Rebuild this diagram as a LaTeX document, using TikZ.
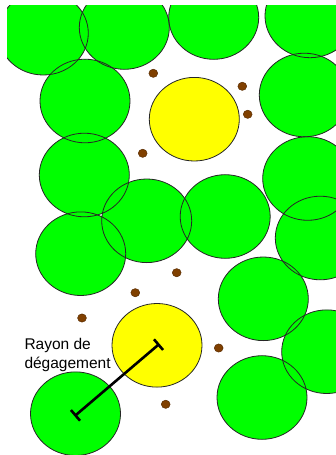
\documentclass[tikz,border=0pt]{standalone}
\usepackage{fontspec}
\setmainfont{Liberation Sans}
\usetikzlibrary{arrows.meta}
\definecolor{tree}{RGB}{0,255,0}
\definecolor{crown}{RGB}{255,255,0}
\definecolor{stump}{RGB}{128,64,0}
\tikzset{
  disc/.style={line width=0.8pt, draw=black!85},
  dot/.style={fill=stump, draw=stump!70!black, line width=0.5pt},
  radius line/.style={line width=2.6pt, {Bar[width=14pt,line width=2.6pt]}-{Bar[width=14pt,line width=2.6pt]}},
  label text/.style={inner sep=0pt, font=\fontsize{15.5}{19}\selectfont, text=black}
}
\begin{document}
\begin{tikzpicture}[x=1pt,y=-1pt]
\useasboundingbox (0,0) rectangle (336,455);
\fill[white] (0,0) rectangle (336,455);
% centers
\def\greens{43.3/33.2,124.3/27.5,213.7/17.5,310/15.9,85/101,304.3/95,84.3/175,146.7/220.8,225.2/216.5,307.7/178.5,80.7/253.7,320.3/238,263.3/298.8,326.7/351.7,262/397.5,75.5/413.7}
\def\yellows{194.3/119.2,157/345.3}
\begin{scope}
\clip (7,5) rectangle (336,455);
\foreach \x/\y in \greens {\fill[tree] (\x,\y) ellipse [x radius=45pt, y radius=41.8pt];}
\foreach \x/\y in \yellows {\fill[crown] (\x,\y) ellipse [x radius=45pt, y radius=41.8pt];}
\foreach \x/\y in \greens {\draw[disc] (\x,\y) ellipse [x radius=45pt, y radius=41.8pt];}
\foreach \x/\y in \yellows {\draw[disc] (\x,\y) ellipse [x radius=45pt, y radius=41.8pt];}
\end{scope}
% stumps
\foreach \x/\y in {153.3/73.3,242.3/86.3,247.7/114.3,142.7/153.3,176.7/272.7,135.3/292.7,82/318,218.7/348,165.7/404.3}
  {\filldraw[dot] (\x,\y) ellipse [x radius=4.4pt, y radius=4.1pt];}
% clearance radius
\coordinate (ycenter) at (159.5,343.8);
\coordinate (gcenter) at (74.5,416.2);
\draw[radius line] (ycenter) -- (gcenter);
\node[label text, anchor=base west] (t1) at (24.3,349) {Rayon de};
\node[label text, anchor=base west] (t2) at (24.3,368.3) {dégagement};
\end{tikzpicture}
\end{document}
